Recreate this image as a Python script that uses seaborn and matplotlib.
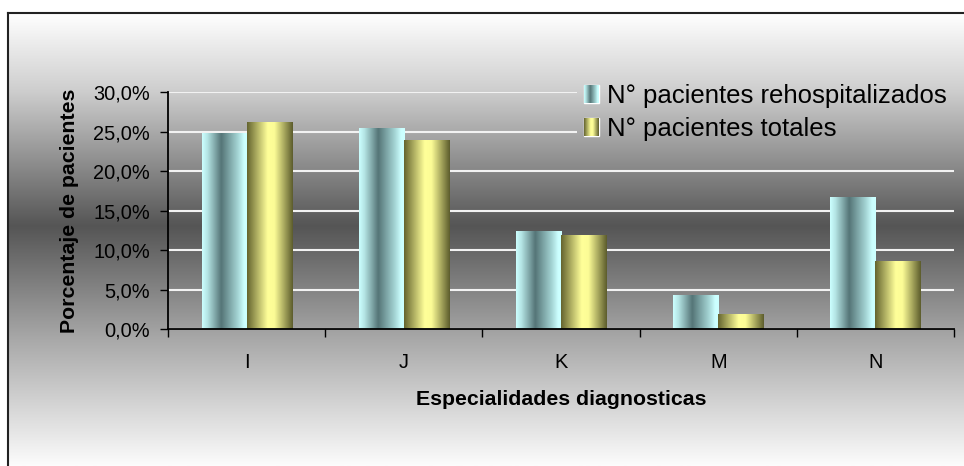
import numpy as np
import pandas as pd
import matplotlib
matplotlib.use("Agg")
import matplotlib.pyplot as plt
import seaborn as sns
from matplotlib.colors import LinearSegmentedColormap
from matplotlib.patches import Patch
from matplotlib.ticker import FuncFormatter

# ── Data ──────────────────────────────────────────────────────────────────────
CATEGORIES = ["I", "J", "K", "M", "N"]
SERIES     = ["N° pacientes rehospitalizados", "N° pacientes totales"]
REHOSP     = [24.7, 25.4, 12.3, 4.3, 16.7]
TOTALES    = [26.1, 23.8, 11.8, 1.8, 8.5]
Y_TICKS    = [0, 5, 10, 15, 20, 25, 30]

W, H = 964, 466

df = pd.DataFrame({
    "cat":   CATEGORIES * 2,
    "serie": [SERIES[0]] * len(CATEGORIES) + [SERIES[1]] * len(CATEGORIES),
    "pct":   REHOSP + TOTALES,
})

sns.set_style("white")
plt.rcParams["font.family"] = ["Liberation Sans", "DejaVu Sans"]
plt.rcParams.update({"text.color": "black", "axes.labelcolor": "black",
                     "xtick.color": "black", "ytick.color": "black"})

# Excel-like gradients
CYAN  = LinearSegmentedColormap.from_list("cyan", [
    (0, "#ccffff"), (0.12, "#b4e4e4"), (0.42, "#557577"),
    (0.78, "#a4d4d4"), (0.92, "#ccffff"), (1, "#ccffff")])
OLIVE = LinearSegmentedColormap.from_list("olive", [
    (0, "#64642f"), (0.45, "#ffff99"), (0.6, "#fcfc96"), (1, "#5c5c2c")])
BG    = LinearSegmentedColormap.from_list("bg", [
    (0, "#ffffff"), (0.17, "#cecece"), (0.47, "#555555"),
    (0.72, "#a8a8a8"), (1, "#fcfcfc")])
BAR_CMAPS = [CYAN, OLIVE]
grad_h = np.linspace(0, 1, 256).reshape(1, -1)
grad_v = np.linspace(0, 1, 256).reshape(-1, 1)

fig = plt.figure(figsize=(W / 100, H / 100), dpi=100)

# ── Background with border ───────────────────────────────────────────────────
bg = fig.add_axes([8 / W, 0, 1 - 8 / W, 1 - 13 / H], zorder=-10)
bg.imshow(grad_v, cmap=BG, aspect="auto", extent=[0, 1, 0, 1], interpolation="bilinear")
bg.set_xticks([]); bg.set_yticks([])
for s in ["right", "bottom"]:
    bg.spines[s].set_visible(False)
for s in ["left", "top"]:
    bg.spines[s].set_color("#222222"); bg.spines[s].set_linewidth(1.5)

# ── Bars ─────────────────────────────────────────────────────────────────────
ax = fig.add_axes([168 / W, 1 - 329 / H, (954 - 168) / W, (329 - 92) / H])
ax.set_facecolor("none")
sns.barplot(data=df, x="cat", y="pct", hue="serie", width=0.573,
            saturation=1, palette=["#9cc", "#cc6"], legend=False, ax=ax)

for cont, cmap in zip(ax.containers, BAR_CMAPS):
    for bar in cont:
        x0, w, h = bar.get_x(), bar.get_width(), bar.get_height()
        ax.imshow(grad_h, cmap=cmap, aspect="auto", interpolation="bilinear",
                  extent=[x0, x0 + w, 0, h], zorder=2)
        bar.set_visible(False)

ax.set_xlim(-0.5, len(CATEGORIES) - 0.5)
ax.set_ylim(0, 30)

# category boundaries as major ticks, names on minor ticks
ax.set_xticks(np.arange(len(CATEGORIES) + 1) - 0.5, labels=[""] * (len(CATEGORIES) + 1))
ax.set_xticks(range(len(CATEGORIES)), labels=CATEGORIES, minor=True)
ax.tick_params(axis="x", which="major", bottom=True, length=6, width=1, color="black")
ax.tick_params(axis="x", which="minor", bottom=True, length=0, pad=17, labelsize=14.4,
               labelcolor="black")
ax.set_yticks(Y_TICKS)
ax.yaxis.set_major_formatter(FuncFormatter(lambda v, _: f"{v:.1f}%".replace(".", ",")))
ax.tick_params(axis="y", left=True, length=6, width=1, color="black", pad=7, labelsize=14.4,
               labelcolor="black")

for s in ["top", "right"]:
    ax.spines[s].set_visible(False)
for s in ["left", "bottom"]:
    ax.spines[s].set_color("black"); ax.spines[s].set_linewidth(1.3)
ax.spines["bottom"].set_zorder(3)
ax.yaxis.grid(True, color="#f2f2f2", lw=1.5)
ax.set_axisbelow(True)

ax.set_xlabel("Especialidades diagnosticas", fontsize=15.3, fontweight="bold", color="black")
ax.set_ylabel("Porcentaje de pacientes", fontsize=15.3, fontweight="bold", color="black")
ax.xaxis.set_label_coords(0.5, -0.257)
ax.yaxis.set_label_coords(-0.113, 0.5)

# ── Legend ───────────────────────────────────────────────────────────────────
handles = [Patch(facecolor="#9cc"), Patch(facecolor="#cc6")]
leg = fig.legend(handles, SERIES, loc="upper left",
                 bbox_to_anchor=(584 / W, 1 - 84 / H), frameon=False,
                 fontsize=18.5, handlelength=0.58, handleheight=0.65,
                 handletextpad=0.3, labelspacing=0.35,
                 borderpad=0, borderaxespad=0, labelcolor="black")

fig.canvas.draw()
# hide gridlines behind the legend with a slice of the background gradient
lb = leg.get_window_extent()
cover = fig.add_axes([(lb.x0 - 7) / W, (lb.y0 - 4) / H, (W - lb.x0 + 7) / W, (lb.height + 8) / H], zorder=1)
cover.imshow(grad_v, cmap=BG, aspect="auto", interpolation="bilinear", extent=[8, W, 0, H - 13])
cover.set_xlim(lb.x0 - 7, W); cover.set_ylim(lb.y0 - 4, lb.y1 + 4)
cover.axis("off")

for p, cmap in zip(leg.get_patches(), BAR_CMAPS):
    pb = p.get_window_extent()
    hax = fig.add_axes([pb.x0 / W, pb.y0 / H, pb.width / W, pb.height / H], zorder=6)
    hax.imshow(grad_h, cmap=cmap, aspect="auto", interpolation="bilinear")
    hax.axis("off")

fig.savefig("out.png", dpi=100)
